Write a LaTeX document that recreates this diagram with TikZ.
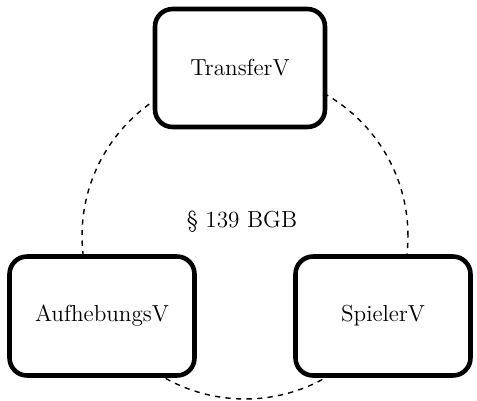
\documentclass[tikz,border=0pt]{standalone}
\usepackage{tikz}
\tikzset{
    vertrag/.style={
        draw, fill=white, line width=2.6pt, rounded corners=0.35cm,
        align=center, font=\fontsize{13.2}{16}\selectfont
    },
    klammer/.style={
        draw, circle, dashed, line width=0.8pt, minimum size=6.52cm
    }
}

\begin{document}
\begin{tikzpicture}[x=0.02cm, y=-0.02cm]
\useasboundingbox (0,0) rectangle (477,400);

\node[klammer] (kreis) at (245,236) {};
\node[font=\fontsize{13.2}{16}\selectfont] (bgb) at (242,222) {§ 139 BGB};

\node[vertrag, minimum width=3.4cm, minimum height=2.36cm] (transfer) at (240,68) {TransferV};
\node[vertrag, minimum width=3.7cm, minimum height=2.38cm] (aufhebung) at (102,316) {AufhebungsV};
\node[vertrag, minimum width=3.5cm, minimum height=2.38cm] (spieler) at (383,316) {SpielerV};
\end{tikzpicture}
\end{document}
